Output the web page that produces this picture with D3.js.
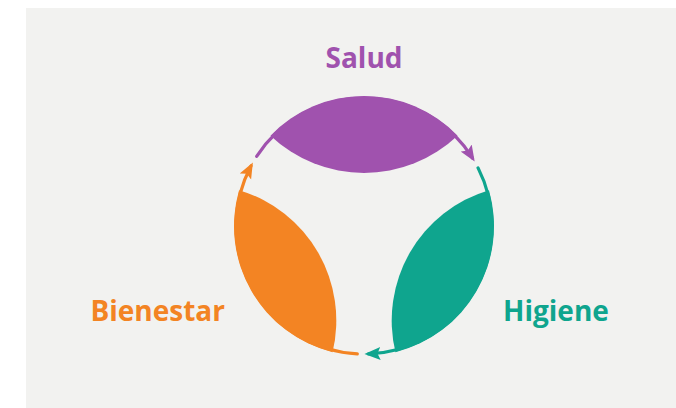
<!DOCTYPE html>
<html>
<head>
<meta charset="utf-8">
<script src="https://cdn.jsdelivr.net/npm/d3@7"></script>
<style>
    html, body { margin: 0; padding: 0; background: #ffffff; }
    svg { display: block; }
</style>
</head>
<body>
<svg id="main" width="676" height="408"></svg>
<script>
// Categorías del ciclo (en sentido horario, empezando arriba)
const categories = ['Salud', 'Higiene', 'Bienestar'];
const colors = ['#a052ae', '#0fa58e', '#f38423'];
// Ángulo central de cada hoja (grados, matemático: 90 = arriba)
const centerAngles = [90, -30, 210];

const width = 676, height = 408;
const cx = 364, cy = 226;
const R = 130;          // radio exterior de las hojas
const lineR = 128;      // radio de la flecha fina
const halfLeaf = 46;    // semiancho angular de la hoja
const innerDist = 53;   // distancia del centro al borde interior de la hoja
const lineStart = 57, lineEnd = 58;

const svg = d3.select('svg#main');

// Fondo gris
svg.append('rect')
    .attr('x', 26).attr('y', 8)
    .attr('width', 650).attr('height', 400)
    .attr('fill', '#f2f2f0');

const angle = d3.scaleOrdinal().domain(categories).range(centerAngles);
const color = d3.scaleOrdinal().domain(categories).range(colors);
const rad = d => d * Math.PI / 180;

// Marcadores de flecha
const defs = svg.append('defs');
categories.forEach((c, i) => {
    defs.append('marker')
        .attr('id', 'arrow-' + i)
        .attr('markerUnits', 'userSpaceOnUse')
        .attr('viewBox', '0 -7 16 14')
        .attr('refX', 12).attr('refY', 0)
        .attr('markerWidth', 16).attr('markerHeight', 14)
        .attr('orient', 'auto')
        .append('path')
        .attr('d', 'M0,-6.5 L16,0 L0,6.5 L3,0 Z')
        .attr('fill', color(c));
});

// Flechas finas
categories.forEach((c, i) => {
    const a = angle(c);
    const p = d3.path();
    p.arc(cx, cy, lineR, -rad(a + lineStart), -rad(a - lineEnd), false);
    svg.append('path')
        .attr('d', p.toString())
        .attr('fill', 'none')
        .attr('stroke', color(c))
        .attr('stroke-width', 3.2)
        .attr('stroke-linecap', 'round')
        .attr('marker-end', 'url(#arrow-' + i + ')');
});

// Hojas (lentes)
categories.forEach(c => {
    const a = angle(c);
    const half = R * Math.sin(rad(halfLeaf));
    const chord = R * Math.cos(rad(halfLeaf));
    const s = chord - innerDist;
    const rIn = (half * half + s * s) / (2 * s);
    const D = innerDist + rIn;
    const icx = cx + D * Math.cos(rad(a));
    const icy = cy - D * Math.sin(rad(a));
    const t1 = [cx + R * Math.cos(rad(a - halfLeaf)), cy - R * Math.sin(rad(a - halfLeaf))];
    const t2 = [cx + R * Math.cos(rad(a + halfLeaf)), cy - R * Math.sin(rad(a + halfLeaf))];
    const p = d3.path();
    p.arc(cx, cy, R, -rad(a + halfLeaf), -rad(a - halfLeaf), false);
    p.arc(icx, icy, rIn,
        Math.atan2(t1[1] - icy, t1[0] - icx),
        Math.atan2(t2[1] - icy, t2[0] - icx), false);
    p.closePath();
    svg.append('path')
        .attr('d', p.toString())
        .attr('fill', color(c));
});

// Etiquetas
const labels = [
    { name: 'Salud', x: cx, y: 68, anchor: 'middle' },
    { name: 'Higiene', x: cx + 139, y: 321, anchor: 'start' },
    { name: 'Bienestar', x: cx - 139, y: 321, anchor: 'end' }
];
svg.selectAll('text.label')
    .data(labels)
    .join('text')
    .attr('class', 'label')
    .attr('x', d => d.x)
    .attr('y', d => d.y)
    .attr('text-anchor', d => d.anchor)
    .attr('fill', d => color(d.name))
    .style('font-family', '"Open Sans", sans-serif')
    .style('font-weight', 700)
    .style('font-size', '28px')
    .text(d => d.name);
</script>
</body>
</html>
